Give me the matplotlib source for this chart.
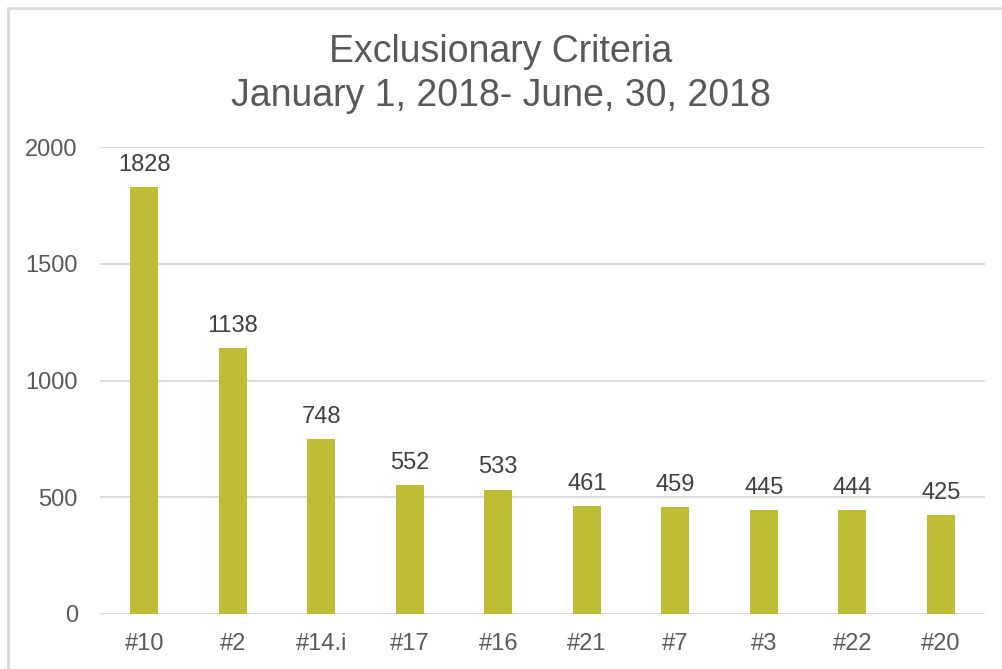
import matplotlib.pyplot as plt
from matplotlib.patches import Rectangle
import numpy as np

# values
categories = ["#10", "#2", "#14.i", "#17", "#16", "#21", "#7", "#3", "#22", "#20"]
counts = [1828, 1138, 748, 552, 533, 461, 459, 445, 444, 425]
yticks = [0, 500, 1000, 1500, 2000]

plt.rcParams["font.family"] = ["Liberation Sans", "DejaVu Sans"]
text_gray = "#595959"
bar_color = "#BDBE35"

fig = plt.figure(figsize=(10.02, 6.69), dpi=100)
ax = fig.add_axes([100 / 1002, 55 / 669, 885 / 1002, 467 / 669])

x = np.arange(len(categories))
ax.bar(x, counts, width=0.32, color=bar_color, zorder=3)

# data labels above each bar
for xi, v in zip(x, counts):
    ax.annotate(str(v), (xi, v), xytext=(0, 8), textcoords="offset points",
                ha="center", va="bottom", fontsize=17, color="#404040")

ax.set_xlim(-0.5, len(categories) - 0.5)
ax.set_ylim(0, 2000)
ax.set_yticks(yticks)
ax.set_xticks(x)
ax.set_xticklabels(categories)
ax.tick_params(axis="both", length=0, labelsize=17, colors=text_gray)
ax.tick_params(axis="x", pad=14)
ax.tick_params(axis="y", pad=16)
ax.grid(axis="y", color="#D9D9D9", linewidth=1.3, zorder=0)
for s in ax.spines.values():
    s.set_visible(False)

fig.text(0.5, 1 - 74 / 669, "Exclusionary Criteria\nJanuary 1, 2018- June, 30, 2018",
         ha="center", va="center", fontsize=27, color=text_gray, linespacing=1.25)

# light border of the chart area
fig.patches.append(Rectangle((7.5 / 1002, -0.1), 1.2, 1 - 7.5 / 669 + 0.1,
                             transform=fig.transFigure, fill=False,
                             edgecolor="#D9D9D9", linewidth=2))

plt.savefig("out.png", dpi=100)
